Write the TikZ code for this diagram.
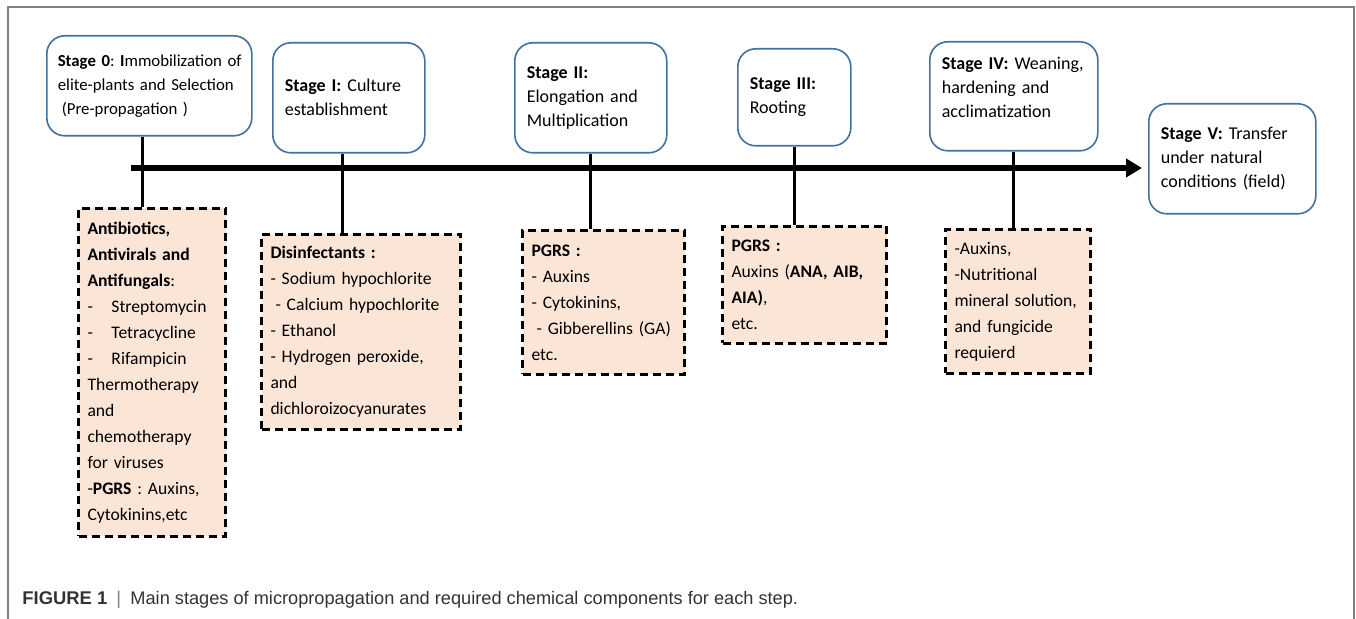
\documentclass[tikz,border=0pt]{standalone}
\usepackage{fontspec}
\setmainfont{Carlito}
\newfontfamily\capfont{Liberation Sans}
\usetikzlibrary{arrows.meta}
\frenchspacing

\definecolor{stageblue}{HTML}{41719C}
\definecolor{peach}{HTML}{FBE5D6}
\definecolor{framegray}{HTML}{808080}
\definecolor{captext}{HTML}{333333}

\tikzset{
  stagebox/.style={draw=stageblue, line width=0.8pt, rounded corners=9pt, fill=white,
    align=left, anchor=north west, inner xsep=6pt, inner ysep=0pt,
    font=\fontsize{9}{12}\selectfont},
  chembox/.style={draw=black, line width=1.5pt, dash pattern=on 4pt off 2.5pt, fill=peach,
    align=left, anchor=north west, inner xsep=4.5pt, inner ysep=0pt,
    font=\fontsize{8.8}{13}\selectfont},
  link/.style={line width=1.5pt},
  timeline/.style={line width=3pt, -{Triangle[length=8pt,width=9pt]}, shorten >=3pt}
}

\begin{document}
\begin{tikzpicture}[x=0.5pt,y=-0.5pt]
\useasboundingbox (0,0) rectangle (1356,619);
\draw[framegray, line width=0.8pt] (8,619) -- (8,7) -- (1354,7) -- (1354,619);

% stages along the line
\node[stagebox, inner xsep=5.5pt, text width=91.5pt, minimum height=50pt, font=\fontsize{8.4}{12}\selectfont] (s0) at (46,35)
  {\mbox{\textbf{Stage 0}: \textbf{I}mmobilization of}\\\mbox{elite-plants and Selection}\\\hspace*{2pt}(Pre-propagation )};
\node[stagebox, text width=64pt, minimum height=55pt] (s1) at (272,42)
  {\textbf{Stage I:} Culture\\establishment};
\node[stagebox, text width=64pt, minimum height=55pt] (s2) at (514,42)
  {\textbf{Stage II:}\\Elongation and\\Multiplication};
\node[stagebox, text width=44.5pt, minimum height=48.5pt] (s3) at (737,48)
  {\textbf{Stage III:}\\Rooting};
\node[stagebox, text width=72pt, minimum height=54.5pt] (s4) at (929,41)
  {\textbf{Stage IV:} Weaning,\\hardening and\\acclimatization\\[-3.5pt]\mbox{}};
\node[stagebox, text width=71.5pt, minimum height=55pt] (s5) at (1148,103)
  {\textbf{Stage V:} Transfer\\under natural\\conditions (field)};

% chemical components
\node[chembox, text width=64.5pt, minimum height=164pt] (b0) at (77,207)
  {\textbf{Antibiotics,}\\\textbf{Antivirals and}\\\textbf{Antifungals}:\\
   \makebox[12pt][l]{-}Streptomycin\\\makebox[12pt][l]{-}Tetracycline\\\makebox[12pt][l]{-}Rifampicin\\
   Thermotherapy\\and\\chemotherapy\\for viruses\\-\textbf{PGRS} : Auxins,\\Cytokinins,etc};
\node[chembox, text width=90.5pt, minimum height=97.5pt] (b1) at (260,233)
  {\textbf{Disinfectants :}\\- Sodium hypochlorite\\\hspace*{2.5pt}- Calcium hypochlorite\\- Ethanol\\
   - Hydrogen peroxide,\\and\\dichloroizocyanurates};
\node[chembox, text width=72pt, minimum height=72pt] (b2) at (521,229)
  {\textbf{PGRS :}\\- Auxins\\- Cytokinins,\\\hspace*{2.5pt}- Gibberellins (GA)\\etc.};
\node[chembox, text width=73pt, minimum height=58.5pt] (b3) at (721,225)
  {\textbf{PGRS :}\\Auxins (\textbf{ANA, AIB,}\\\textbf{AIA)},\\etc.};
\node[chembox, text width=63.5pt, minimum height=72pt] (b4) at (944,228)
  {-Auxins,\\-Nutritional\\mineral solution,\\and fungicide\\requierd};

% connectors
\coordinate (c0) at (142,0);
\coordinate (c1) at (342,0);
\draw[link] (c0 |- s0.south) -- (c0 |- b0.north);
\draw[link] (c1 |- s1.south) -- (c1 |- b1.north);
\draw[link] (s2.south) -- (s2.south |- b2.north);
\draw[link] (s3.south) -- (s3.south |- b3.north);
\draw[link] (s4.south) -- (s4.south |- b4.north);

\coordinate (tl) at (131,168);
\draw[timeline] (tl) -- (tl -| s5.west);

\node[anchor=base west, inner sep=0pt, text=captext, font=\capfont\fontsize{9.2}{11}\selectfont] (caption) at (22,605)
  {\textbf{FIGURE 1}\enspace{\color{framegray}|}\enspace{\fontsize{9.1}{11}\selectfont Main stages of micropropagation and required chemical components for each step.}};
\end{tikzpicture}
\end{document}
